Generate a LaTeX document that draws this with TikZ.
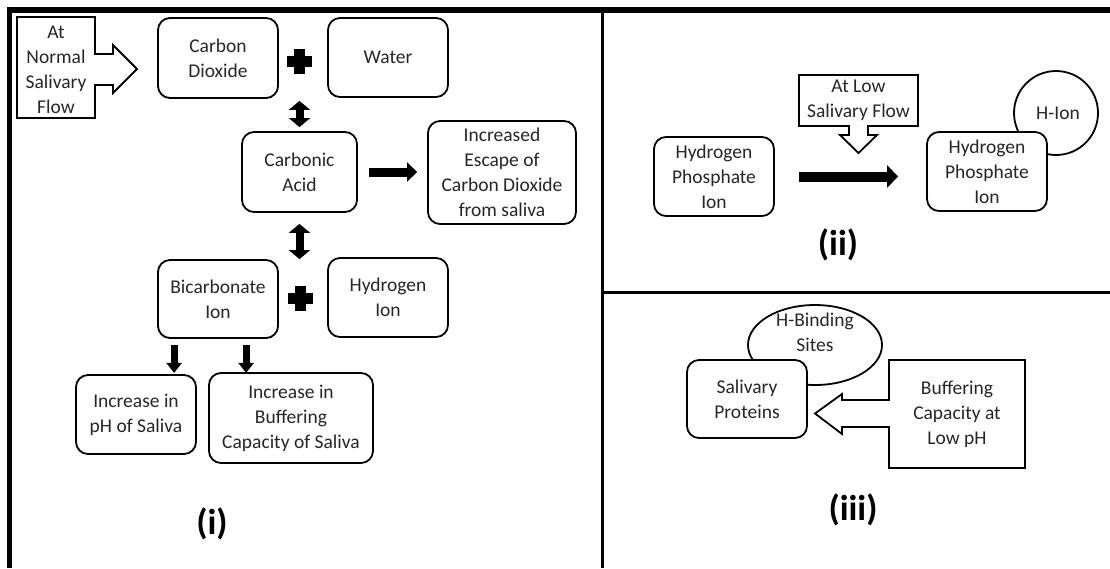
\documentclass[tikz,border=0pt]{standalone}
\usepackage{fontspec}
\setmainfont{Carlito}
\usetikzlibrary{arrows.meta,shapes.geometric,calc}
\begin{document}
\begin{tikzpicture}[x=1pt,y=-1pt,
  txt/.style={align=center,font=\fontsize{19.5}{25}\selectfont,inner sep=0pt,text=black!85},
  rbox/.style={txt,draw,line width=1.8pt,rounded corners=12pt,fill=white},
  outl/.style={line width=1.8pt,line join=miter},
  lbl/.style={font=\fontsize{36}{40}\selectfont\bfseries,inner sep=0pt},
  dbl/.style={line width=8pt,{Triangle[width=21pt,length=9pt]}-{Triangle[width=21pt,length=9pt]}},
  dn/.style={line width=7pt,-{Triangle[width=15pt,length=10pt]}},
  rt/.style={line width=9pt,-{Triangle[width=19pt,length=10pt]}},
  bigrt/.style={line width=10pt,-{Triangle[width=22pt,length=11pt]}},
  border/.style={line width=5.5pt},
  divider/.style={line width=3pt}
]
\useasboundingbox (0,0) rectangle (1110,568);

% frame
\draw[border] (1110,10) -- (9.5,10) -- (9.5,568);
\draw[divider] (602,10) -- (602,568);
\draw[divider] (602,292.5) -- (1110,292.5);

% ---------- panel (i) ----------
\node[txt] (normal) at (56,70) {At\\Normal\\Salivary\\Flow};
\draw[outl] (17,17) -- (95,17) -- (95,54) -- (113,54) -- (113,45) -- (137,69)
  -- (113,93) -- (113,85) -- (95,85) -- (95,118) -- (17,118) -- cycle;

\node[rbox,minimum width=120pt,minimum height=80pt] (co2) at (218,58) {Carbon\\Dioxide};
\node[rbox,minimum width=120pt,minimum height=79pt] (water) at (388,57.5) {Water};
\node[rbox,minimum width=115pt,minimum height=80pt] (acid) at (299.5,172) {Carbonic\\Acid};
\node[rbox,minimum width=148pt,minimum height=103pt] (escape) at (502,172.5) {Increased\\Escape of\\Carbon Dioxide\\from saliva};
\node[rbox,minimum width=120pt,minimum height=78pt] (bicarb) at (218,299) {Bicarbonate\\Ion};
\node[rbox,minimum width=120pt,minimum height=79pt] (hion) at (388,297.5) {Hydrogen\\Ion};
\node[rbox,minimum width=120pt,minimum height=79pt] (ph) at (136,414.5) {Increase in\\pH of Saliva};
\node[rbox,minimum width=164pt,minimum height=90pt] (buff) at (291,418) {Increase in\\Buffering\\Capacity of Saliva};

% plus signs
\fill (286.5,55.5) rectangle (311.5,66.5);
\fill (293.5,48.5) rectangle (304.5,73.5);
\fill (287.5,292.5) rectangle (312.5,303.5);
\fill (294.5,285.5) rectangle (305.5,310.5);

% arrows
\draw[dbl] ($(acid.north)+(0,-4)$) -- ($(co2.south -| acid.north)+(0,2)$);
\draw[dbl] ($(acid.south)+(0,11)$) -- (acid.south |- bicarb.north);
\draw[rt] ($(acid.east)+(11,0)$) -- ($(acid.east -| escape.west)+(-10,0)$);
\draw[dn] ($(bicarb.south west)+(17,6)$) -- ($(bicarb.south west)+(17,34)$);
\draw[dn] ($(bicarb.south west)+(89,6)$) -- ($(bicarb.south west)+(89,34)$);

\node[lbl] (lab1) at (212,524) {(i)};

% ---------- panel (ii) ----------
\node[txt] (low) at (858.5,100.5) {At Low\\Salivary Flow};
\draw[outl] (799,75) -- (918,75) -- (918,126) -- (868,126) -- (868,135) -- (877,135)
  -- (858.5,153) -- (840,135) -- (849,135) -- (849,126) -- (799,126) -- cycle;

\node[draw,line width=1.8pt,circle,minimum size=84pt,inner sep=0pt] (hcirc) at (1056,113) {};
\node[rbox,minimum width=120pt,minimum height=79pt] (hpo1) at (714,176.5) {Hydrogen\\Phosphate\\Ion};
\node[rbox,minimum width=120pt,minimum height=79pt] (hpo2) at (987,171.5) {Hydrogen\\Phosphate\\Ion};
\node[txt] (hiontxt) at (1058,113) {H-Ion};
\draw[bigrt] ($(hpo1.east)+(24,0)$) -- ($(hpo1.east -| hpo2.west)+(-28,0)$);

\node[lbl] (lab2) at (838,245) {(ii)};

% ---------- panel (iii) ----------
\node[draw,line width=1.8pt,ellipse,minimum width=134pt,minimum height=80pt,inner sep=0pt] (hbs) at (815,345) {};
\node[txt] (hbstxt) at (815,332.5) {H-Binding\\Sites};
\node[rbox,minimum width=120pt,minimum height=78pt] (salp) at (747,399) {Salivary\\Proteins};
\node[txt] (bufcap) at (957,414) {Buffering\\Capacity at\\Low pH};
\draw[outl] (889,400) -- (889,360) -- (1025,360) -- (1025,468) -- (889,468) -- (889,427)
  -- (842,427) -- (842,434) -- (815,413.5) -- (842,394) -- (842,400) -- cycle;

\node[lbl] (lab3) at (853,510) {(iii)};
\end{tikzpicture}
\end{document}
